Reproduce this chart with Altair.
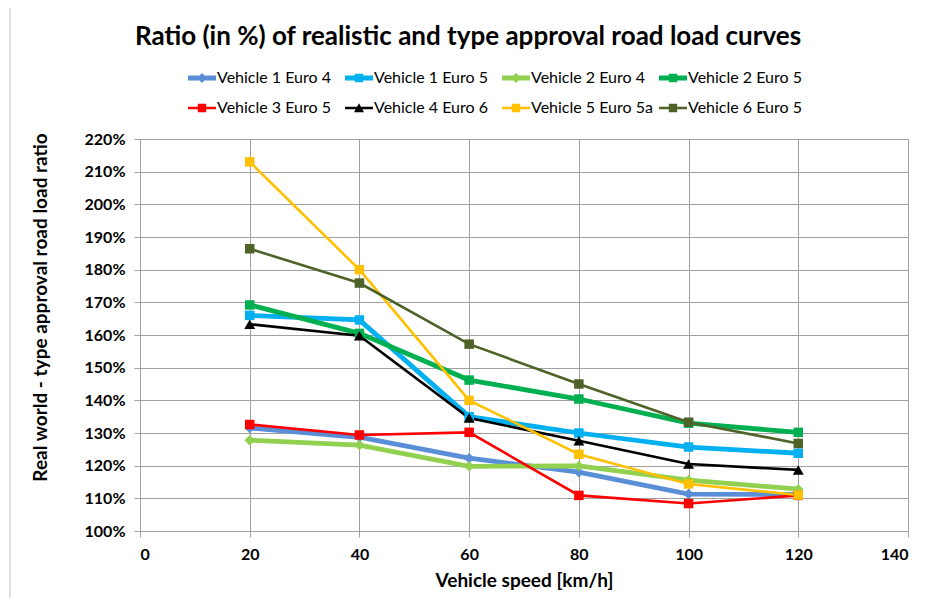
import altair as alt
import pandas as pd

speeds = [20, 40, 60, 80, 100, 120]
series = ["Vehicle 1 Euro 4", "Vehicle 1 Euro 5", "Vehicle 2 Euro 4", "Vehicle 2 Euro 5",
          "Vehicle 3 Euro 5", "Vehicle 4 Euro 6", "Vehicle 5 Euro 5a", "Vehicle 6 Euro 5"]
v1e4 = [131.5, 128.7, 122.3, 118.0, 111.3, 111.2]
v1e5 = [166.0, 164.6, 135.0, 130.0, 125.7, 123.8]
v2e4 = [127.8, 126.3, 119.8, 119.9, 115.6, 112.8]
v2e5 = [169.2, 160.5, 146.2, 140.4, 133.0, 130.2]
v3e5 = [132.6, 129.4, 130.2, 110.9, 108.4, 110.9]
v4e6 = [163.3, 159.8, 134.6, 127.6, 120.5, 118.7]
v5e5a = [213.0, 180.0, 140.0, 123.5, 114.4, 111.0]
v6e5 = [186.4, 175.9, 157.2, 145.0, 133.3, 126.8]
values = [v1e4, v1e5, v2e4, v2e5, v3e5, v4e6, v5e5a, v6e5]
colors = ["#5A8ED6", "#00B0F0", "#92D050", "#00B050", "#FF0000", "#000000", "#FFC000", "#4F6228"]
markers = ["diamond", "square", "diamond", "square", "square", "triangle-up", "square", "square"]
widths = [4.8, 4.8, 4.8, 4.8, 2.6, 2.6, 2.6, 2.6]
msizes = [110, 90, 110, 90, 90, 120, 90, 90]
x_ticks = [0, 20, 40, 60, 80, 100, 120, 140]
y_ticks = [100, 110, 120, 130, 140, 150, 160, 170, 180, 190, 200, 210, 220]

title_text = "Ratio (in %) of realistic and type approval road load curves"
x_title = "Vehicle speed [km/h]"
y_title = "Real world - type approval road load ratio"
FONT = "Lato"

rows = []
for i, name in enumerate(series):
    for s, v in zip(speeds, values[i]):
        rows.append({"series": name, "speed": s, "ratio": v,
                     "w": widths[i], "shape": markers[i], "msize": msizes[i]})
df = pd.DataFrame(rows)


def legend_path(marker, width):
    h = width / 28.0
    line = f"M-1,{-h:.3f}H1V{h:.3f}H-1Z"
    if marker == "diamond":
        m = "M0,-0.36L0.36,0L0,0.36L-0.36,0Z"
    elif marker == "triangle-up":
        m = "M0,-0.34L0.36,0.3L-0.36,0.3Z"
    else:
        m = "M-0.3,-0.3H0.3V0.3H-0.3Z"
    return line + " " + m


legend_paths = [legend_path(m, w) for m, w in zip(markers, widths)]

color_scale = alt.Scale(domain=series, range=colors)
x_enc = alt.X("speed:Q", scale=alt.Scale(domain=[0, 140], nice=False),
              axis=alt.Axis(values=x_ticks, title=x_title))
y_enc = alt.Y("ratio:Q", scale=alt.Scale(domain=[100, 220], nice=False),
              axis=alt.Axis(values=y_ticks, title=y_title,
                            labelExpr="datum.value + '%'", labelOverlap=False,
                            titleX=-100, titleY=168, titleAngle=270,
                            titleAlign="center", titleBaseline="middle"))

base = alt.Chart(df)

legend_layer = base.transform_filter("false").mark_point(filled=True).encode(
    x=x_enc, y=y_enc,
    color=alt.Color("series:N", scale=color_scale,
                    legend=alt.Legend(orient="none", legendX=48, legendY=-75, columns=4,
                                      direction="horizontal", gridAlign="all",
                                      title=None, symbolSize=784, symbolOpacity=1,
                                      symbolStrokeWidth=0, labelFont=FONT, labelFontSize=16,
                                      labelColor="#000000", labelOffset=1, labelLimit=300,
                                      columnPadding=6, rowPadding=8, padding=0)),
    shape=alt.Shape("series:N", scale=alt.Scale(domain=series, range=legend_paths)),
)

lines = base.mark_line(clip=False).encode(
    x=x_enc, y=y_enc,
    color=alt.Color("series:N", scale=color_scale),
    strokeWidth=alt.StrokeWidth("w:Q", scale=None),
    detail="series:N",
)

points = base.mark_point(filled=True, opacity=1, clip=False).encode(
    x=x_enc, y=y_enc,
    color=alt.Color("series:N", scale=color_scale),
    shape=alt.Shape("shape:N", scale=None),
    size=alt.Size("msize:Q", scale=None),
)

frame_df = pd.DataFrame({"k": [0]})
frame = alt.Chart(frame_df).mark_rect(fill=None, stroke="#BFBFBF", strokeWidth=1, clip=False).encode(
    x=alt.value(-130), x2=alt.value(800), y=alt.value(-134), y2=alt.value(481)
)
title_mark = alt.Chart(frame_df).mark_text(
    text=title_text, font=FONT, fontSize=26, fontWeight="bold", color="#000000",
    align="center", baseline="middle", clip=False
).encode(x=alt.value(328), y=alt.value(-102))

chart = alt.layer(legend_layer, frame, title_mark, lines, points).properties(
    width=768, height=392,
    autosize=alt.AutoSizeParams(type="none"),
    padding={"left": 132, "top": 131, "right": 10, "bottom": 67},
).configure_view(stroke=None).configure_axis(
    grid=True, gridColor="#A0A0A0", gridWidth=1, domainColor="#A0A0A0", tickColor="#A0A0A0",
    tickSize=6, labelFont=FONT, labelFontSize=16, labelFontWeight="bold", labelColor="#000000",
    titleFont=FONT, titleFontWeight="bold", titleColor="#000000",
).configure_axisY(labelPadding=9, titleFontSize=19).configure_axisX(
    labelPadding=9, titlePadding=9, titleFontSize=19)

chart.save("out.html", embed_options={"renderer": "svg", "actions": False})
